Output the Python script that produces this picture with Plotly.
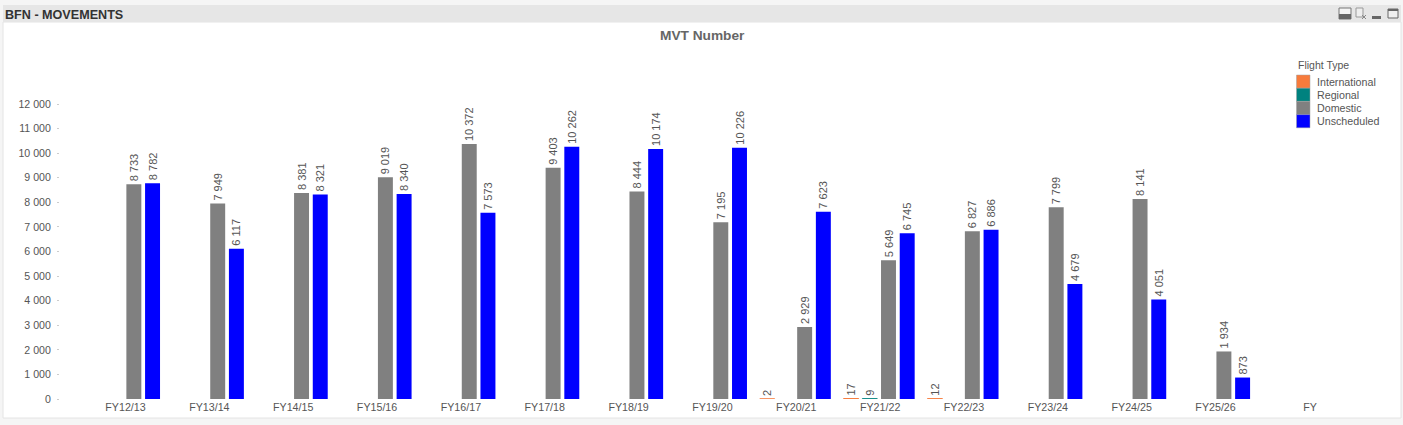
import plotly.graph_objects as go

W, H = 1403, 425
L, R, T, B = 60, 1360, 60, 399

categories = ["FY12/13", "FY13/14", "FY14/15", "FY15/16", "FY16/17", "FY17/18", "FY18/19",
              "FY19/20", "FY20/21", "FY21/22", "FY22/23", "FY23/24", "FY24/25", "FY25/26", "FY"]
international = [None, None, None, None, None, None, None, None, 2, 17, 12, None, None, None, None]
regional = [None, None, None, None, None, None, None, None, None, 9, None, None, None, None, None]
domestic = [8733, 7949, 8381, 9019, 10372, 9403, 8444, 7195, 2929, 5649, 6827, 7799, 8141, 1934, None]
unscheduled = [8782, 6117, 8321, 8340, 7573, 10262, 10174, 10226, 7623, 6745, 6886, 4679, 4051, 873, None]
series = [("International", international, "#F77B3C", 1), ("Regional", regional, "#00827F", 1),
          ("Domestic", domestic, "#808080", 0), ("Unscheduled", unscheduled, "#0000FF", 0)]

positions = list(range(len(categories)))
tick_positions = [p + 0.012 for p in positions[:-1]] + [14.14]
STEP = 83.85
x_range = [-(124.5 - L) / STEP, (R - 124.5) / STEP]
y_range = [0, (B - T) / 24.58 * 1000]


def px(x):
    return (x - L) / (R - L)


def py(y):
    return (B - y) / (B - T)


fig = go.Figure()
for name, values, color, edge in series:
    fig.add_bar(name=name, x=positions, y=values, marker=dict(color=color, line=dict(color=color, width=edge)),
                texttemplate="%{y:,}", textposition="outside", textangle=-90,
                constraintext="none", cliponaxis=False,
                textfont=dict(family="Liberation Sans", size=11, color="#555555"))

shapes = [
    dict(type="rect", x0=px(3), x1=px(1401), y0=py(22), y1=py(418), fillcolor="#FFFFFF",
         line=dict(color="#E4E4E4", width=1), layer="below"),
    dict(type="rect", x0=px(3), x1=px(1401), y0=py(5), y1=py(22), fillcolor="#E6E6E6",
         line_width=0, layer="below"),
    # window icons
    dict(type="rect", x0=px(1339), x1=px(1351), y0=py(8), y1=py(19), fillcolor="#F4F4F4",
         line=dict(color="#777777", width=1)),
    dict(type="rect", x0=px(1339), x1=px(1351), y0=py(14), y1=py(19), fillcolor="#666666", line_width=0),
    dict(type="rect", x0=px(1356), x1=px(1363), y0=py(8), y1=py(17), fillcolor="#EEEEEE",
         line=dict(color="#999999", width=1)),
    dict(type="line", x0=px(1362), x1=px(1366), y0=py(15), y1=py(19), line=dict(color="#888888", width=1)),
    dict(type="line", x0=px(1366), x1=px(1362), y0=py(15), y1=py(19), line=dict(color="#888888", width=1)),
    dict(type="rect", x0=px(1372), x1=px(1381), y0=py(16), y1=py(19), fillcolor="#666666", line_width=0),
    dict(type="rect", x0=px(1388), x1=px(1398), y0=py(9), y1=py(18), fillcolor="#F0F0F0",
         line=dict(color="#666666", width=1)),
    dict(type="rect", x0=px(1388), x1=px(1398), y0=py(9), y1=py(11), fillcolor="#666666", line_width=0),
]
annotations = [
    dict(text="<b>BFN - MOVEMENTS</b>", x=px(5), y=py(14.5), xanchor="left", yanchor="middle",
         font=dict(size=12.6, color="#333333")),
    dict(text="<b>MVT Number</b>", x=px(702.5), y=py(35.5), xanchor="center", yanchor="middle",
         font=dict(size=13.7, color="#666666")),
    dict(text="Flight Type", x=px(1298), y=py(65), xanchor="left", yanchor="middle",
         font=dict(size=10.5, color="#555555")),
]
for i, (name, _, color, _e) in enumerate(series):
    y0 = 75 + i * 13.2
    shapes.append(dict(type="rect", x0=px(1296.5), x1=px(1310), y0=py(y0), y1=py(y0 + 13.2),
                       fillcolor=color, line=dict(color="#A0A0A0", width=0.5)))
    annotations.append(dict(text=name, x=px(1317), y=py(y0 + 6.8), xanchor="left", yanchor="middle",
                            font=dict(size=10.7, color="#555555")))
for a in annotations:
    a.update(xref="paper", yref="paper", showarrow=False, borderpad=0, borderwidth=0)
for s in shapes:
    s.update(xref="paper", yref="paper")

fig.update_layout(
    width=W, height=H, autosize=False, showlegend=False,
    margin=dict(l=L, r=W - R, t=T, b=H - B, pad=0),
    paper_bgcolor="#F5F5F5", plot_bgcolor="rgba(0,0,0,0)",
    font=dict(family="Liberation Sans", size=10.5, color="#555555"),
    separators=". ",
    barmode="group", bargap=0.108, bargroupgap=0.2,
    shapes=shapes, annotations=annotations,
    xaxis=dict(range=x_range, tickmode="array", tickvals=tick_positions, ticktext=categories,
               showgrid=False, zeroline=False, showline=False, ticks="", tickangle=0,
               tickfont=dict(size=10.7, color="#555555")),
    yaxis=dict(range=y_range, tickmode="array", tickvals=list(range(0, 12001, 1000)), tickformat=",",
               showgrid=False, zeroline=False, showline=False, ticks="outside", ticklen=2,
               tickcolor="#CCCCCC", tickwidth=1, ticklabelstandoff=4,
               tickfont=dict(size=10.6, color="#555555")),
)
fig.write_html("out.html", config=dict(displayModeBar=False),
               post_script="document.body.style.margin='0';document.body.style.background='#F5F5F5';")
